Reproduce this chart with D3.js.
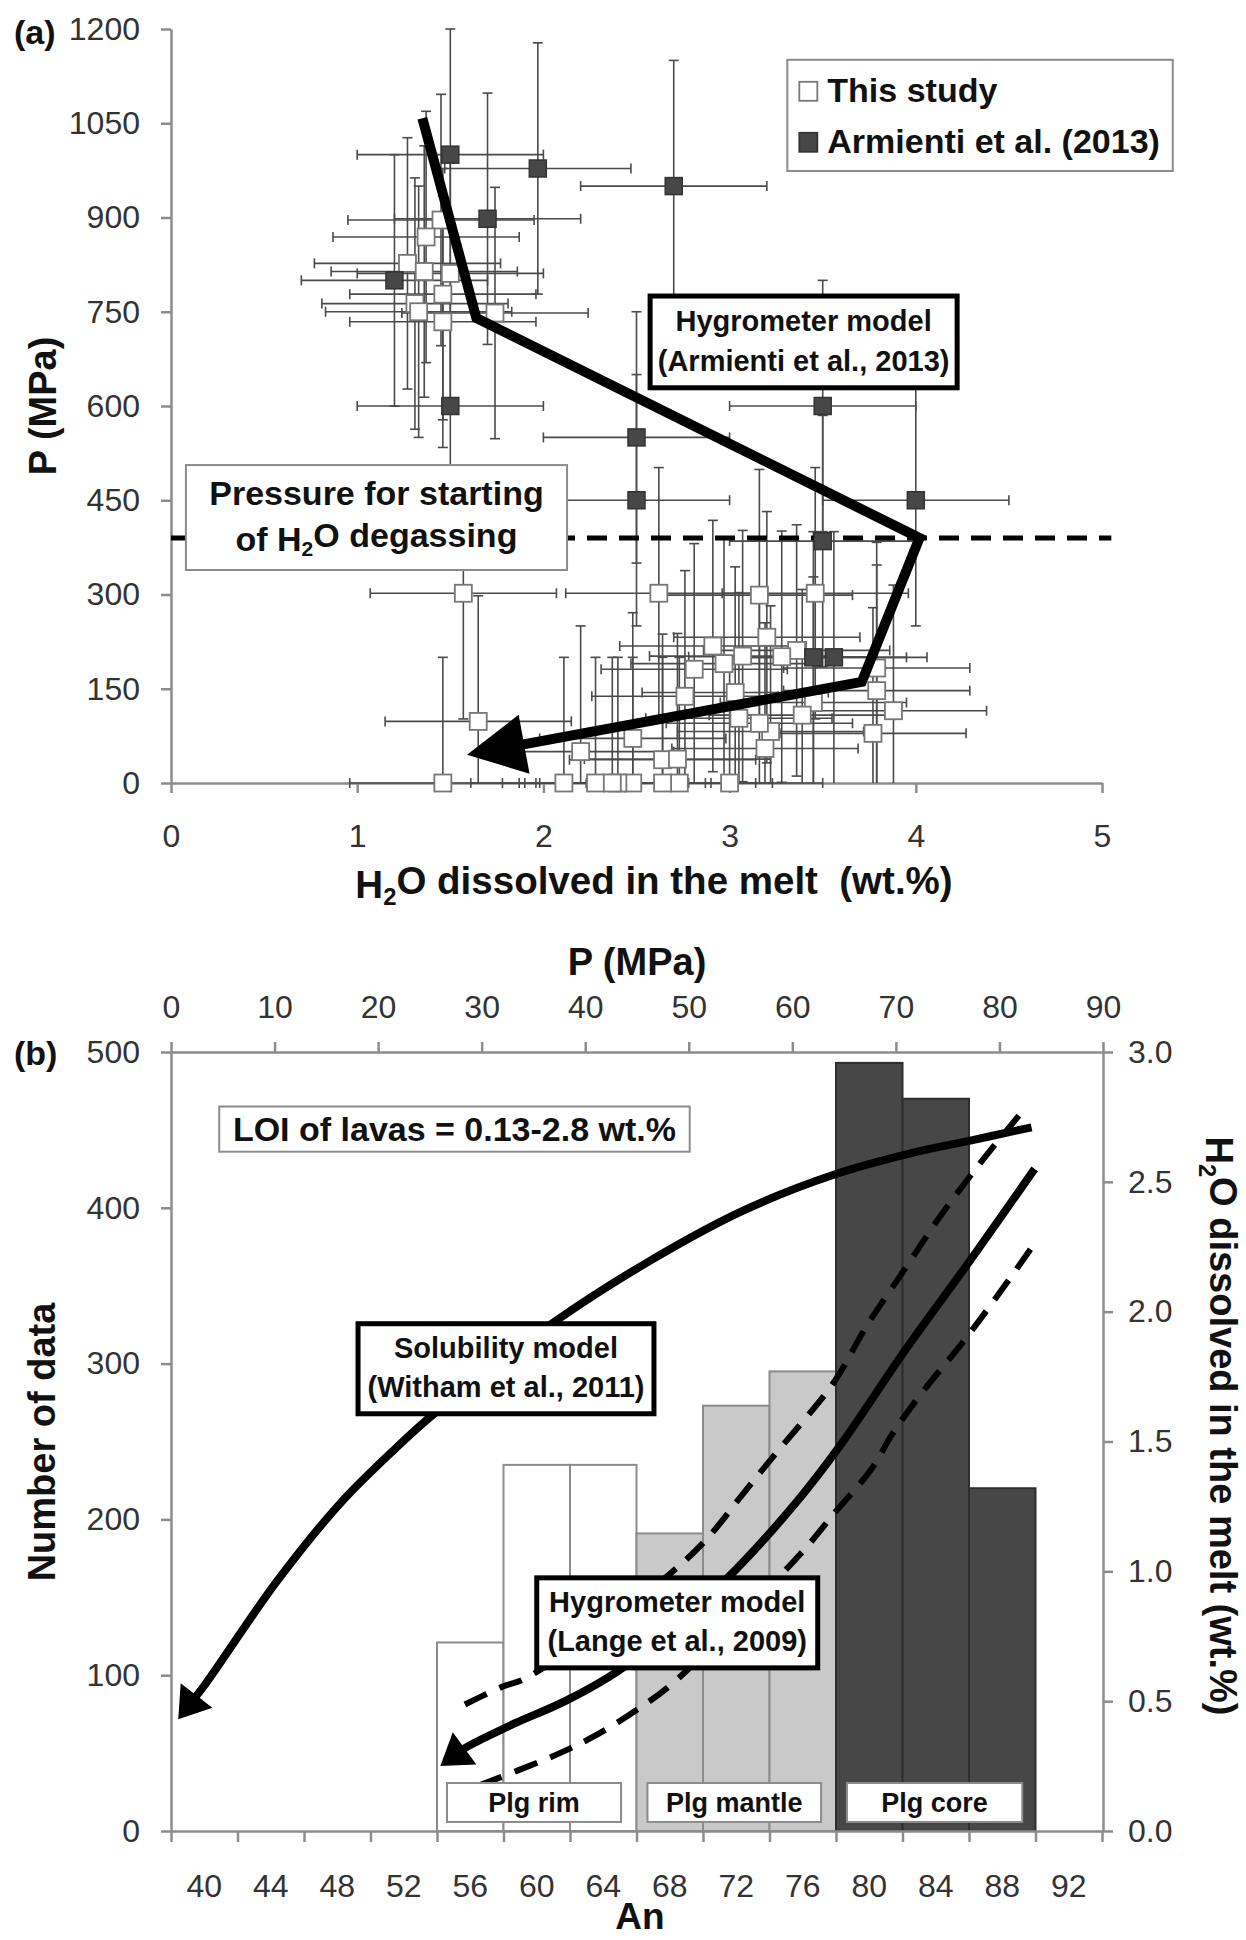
<!DOCTYPE html>
<html>
<head>
<meta charset="utf-8">
<script src="https://cdn.jsdelivr.net/npm/d3@7"></script>
<style>
  body { margin: 0; background: #fff; }
  svg text { font-family: "Liberation Sans", Arial, sans-serif; }
</style>
</head>
<body>
<div id="chart"></div>
<script>
// ---------- panel (a): H2O dissolved in the melt vs P ----------
// this study (white squares)
var thisH2O = [1.45, 1.37, 1.27, 1.36, 1.50, 1.46, 1.31, 1.33, 1.46, 1.74,
               1.57, 1.65, 1.46,
               2.62, 3.16, 3.46, 3.20, 3.36, 3.28, 3.07, 2.91, 2.97, 2.81, 2.76, 3.03,
               3.45, 3.39, 3.05, 3.22, 3.16, 3.19, 3.79, 3.88, 3.77, 3.79, 2.48, 2.64,
               2.72, 3.00, 2.73, 2.64, 2.48, 2.40, 2.11, 2.20, 2.28, 2.37];
var thisP   = [896, 869, 827, 814, 811, 778, 763, 750, 734, 748,
               302, 98, 0,
               302, 299, 302, 232, 211, 201, 202, 218, 190, 181, 138, 144,
               128, 108, 103, 82, 95, 55, 147, 115, 79, 183, 71, 37,
               38, 0, 0, 0, 0, 0, 0, 50, 0, 0];
// Armienti et al. (2013) (dark squares)
var armH2O = [1.50, 1.97, 1.70, 1.20, 1.50, 2.70, 3.50, 2.50, 2.50, 4.00, 3.50, 3.45, 3.56];
var armP   = [1000, 978, 898, 800, 600, 950, 600, 550, 450, 450, 385, 200, 200];
var errH2O = 0.5, errP = 200;
// hygrometer model path (Armienti et al., 2013)
var hygH2O = [1.35, 1.64, 4.02, 3.71, 1.59];
var hygP   = [1058, 740, 390, 161, 45];
var degasP = 390;
var aXTicks = [0, 1, 2, 3, 4, 5];
var aYTicks = [0, 150, 300, 450, 600, 750, 900, 1050, 1200];

// ---------- panel (b): An histogram + models ----------
var anBins   = [40, 44, 48, 52, 56, 60, 64, 68, 72, 76, 80, 84, 88, 92];
var anCounts = [0, 0, 0, 0, 121, 235, 235, 191, 273, 295, 493, 470, 220, 0];
var anZone   = ["", "", "", "", "rim", "rim", "rim", "mantle", "mantle", "mantle", "core", "core", "core", ""];
var anEdges  = [38, 42, 46, 50, 54, 58, 62, 66, 70, 74, 78, 82, 86, 90, 94];
var countTicks = [0, 100, 200, 300, 400, 500];
var pTicks     = [0, 10, 20, 30, 40, 50, 60, 70, 80, 90];
var h2oTicks   = [0, 0.5, 1.0, 1.5, 2.0, 2.5, 3.0];
// solubility model (Witham et al., 2011): P (MPa, top axis) vs H2O
var solP   = [83.1, 77.3, 71.4, 64.2, 55.3, 46.0, 37.0, 25.5, 21.6, 16.3, 10.2, 3.4, 0.7];
var solH2O = [2.71, 2.66, 2.61, 2.53, 2.39, 2.19, 1.96, 1.61, 1.47, 1.26, 0.96, 0.57, 0.43];
// hygrometer model (Lange et al., 2009): An vs H2O, with dashed bounds
var langeAn  = [89.95, 86.1, 82.2, 78.2, 75.6, 71.4, 65.2, 61.7, 58.7, 55.7, 54.2];
var langeH2O = [2.55, 2.20, 1.855, 1.48, 1.265, 0.97, 0.63, 0.50, 0.415, 0.32, 0.25];
var upAn  = [89.0, 86.65, 84.3, 82.2, 79.8, 78.2, 77.2, 74.2, 72.3, 70.3, 68.0, 59.4, 57.9, 55.3];
var upH2O = [2.755, 2.57, 2.37, 2.17, 1.94, 1.76, 1.67, 1.44, 1.29, 1.13, 0.99, 0.59, 0.555, 0.475];
var loAn  = [89.7, 87.7, 85.6, 83.2, 81.4, 80.2, 77.85, 75.9, 68.2, 66.0, 63.4, 60.9, 56.3];
var loH2O = [2.24, 2.06, 1.88, 1.69, 1.53, 1.40, 1.22, 1.07, 0.57, 0.466, 0.363, 0.286, 0.17];

var svg = d3.select("#chart").append("svg").attr("width", 1246).attr("height", 1940);
svg.append("rect").attr("width", 1246).attr("height", 1940).attr("fill", "#fff");

var AXC = "#8c8c8c", TXT = "#333";

function styleAxis(g, fs) {
  g.attr("font-size", null).attr("font-family", null);
  g.select(".domain").attr("stroke", AXC).attr("stroke-width", 2.5);
  g.selectAll(".tick line").attr("stroke", AXC).attr("stroke-width", 2.5);
  g.selectAll(".tick text").attr("fill", TXT).attr("font-size", fs || 32);
}

// text with H2O subscript: parts = [[str, isSub, isAfterSub], ...]
function rich(t, parts) {
  parts.forEach(function (p) {
    var ts = t.append("tspan").text(p[0]);
    if (p[1]) ts.attr("font-size", "0.62em").attr("dy", "0.28em");
    else if (p[2]) ts.attr("dy", "-0.28em");
  });
  return t;
}

function box(g, x0, y0, x1, y1, opt) {
  g.append("rect").attr("x", x0).attr("y", y0).attr("width", x1 - x0).attr("height", y1 - y0)
    .attr("fill", "#fff").attr("stroke", opt.stroke).attr("stroke-width", opt.sw);
  var cx = (x0 + x1) / 2, h = y1 - y0;
  opt.lines.forEach(function (parts, i) {
    var by = opt.lines.length === 1 ? (y0 + y1) / 2 + 0.36 * opt.fs
                                    : y0 + h * (i === 0 ? 0.385 : 0.815);
    var t = g.append("text").attr("x", cx).attr("y", by).attr("text-anchor", "middle")
      .attr("font-weight", "bold").attr("font-size", opt.fs).attr("fill", "#111");
    rich(t, parts);
  });
}

function arrowParts(pts, len, hw) {
  var n = pts.length, tip = pts[n - 1], prev = pts[n - 2];
  var dx = tip[0] - prev[0], dy = tip[1] - prev[1], d = Math.hypot(dx, dy);
  var ux = dx / d, uy = dy / d;
  var bx = tip[0] - ux * len, by = tip[1] - uy * len;
  return {
    tri: [tip, [bx - uy * hw, by + ux * hw], [bx + uy * hw, by - ux * hw]],
    shaft: pts.slice(0, n - 1).concat([[tip[0] - ux * len * 0.8, tip[1] - uy * len * 0.8]])
  };
}

// ======================= PANEL A =======================
var xa = d3.scaleLinear().domain([0, 5]).range([171, 1102]);
var ya = d3.scaleLinear().domain([0, 1200]).range([783, 29]);
var ga = svg.append("g");

styleAxis(ga.append("g").attr("transform", "translate(171,0)")
  .call(d3.axisLeft(ya).tickValues(aYTicks).tickFormat(d3.format("d"))
    .tickSize(10).tickSizeOuter(0).tickPadding(21)));
styleAxis(ga.append("g").attr("transform", "translate(0,783)")
  .call(d3.axisBottom(xa).tickValues(aXTicks).tickFormat(d3.format("d"))
    .tickSize(10).tickSizeOuter(0).tickPadding(31)));

var pts = thisH2O.map(function (v, i) { return { x: v, p: thisP[i], s: 0 }; })
  .concat(armH2O.map(function (v, i) { return { x: v, p: armP[i], s: 1 }; }));

// error bars
var eb = ga.append("g").attr("stroke", "#4a4a4a").attr("stroke-width", 1.6).attr("fill", "none");
pts.forEach(function (d) {
  var cx = xa(d.x), cy = ya(d.p), c = 5;
  var x0 = xa(d.x - errH2O), x1 = xa(d.x + errH2O);
  var y0 = ya(Math.max(0, d.p - errP)), y1 = ya(Math.min(1200, d.p + errP));
  eb.append("line").attr("x1", x0).attr("x2", x1).attr("y1", cy).attr("y2", cy);
  eb.append("line").attr("x1", x0).attr("x2", x0).attr("y1", cy - c).attr("y2", cy + c);
  eb.append("line").attr("x1", x1).attr("x2", x1).attr("y1", cy - c).attr("y2", cy + c);
  eb.append("line").attr("x1", cx).attr("x2", cx).attr("y1", y0).attr("y2", y1);
  eb.append("line").attr("x1", cx - c).attr("x2", cx + c).attr("y1", y1).attr("y2", y1);
  if (d.p - errP > 0) eb.append("line").attr("x1", cx - c).attr("x2", cx + c).attr("y1", y0).attr("y2", y0);
});

// degassing pressure
ga.append("line").attr("x1", xa(0)).attr("x2", xa(5.05)).attr("y1", ya(degasP)).attr("y2", ya(degasP))
  .attr("stroke", "#000").attr("stroke-width", 5).attr("stroke-dasharray", "20,12");

var sq = 17;
ga.selectAll("rect.pt").data(pts.filter(function (d) { return d.s === 0; })).enter().append("rect")
  .attr("x", function (d) { return xa(d.x) - sq / 2; }).attr("y", function (d) { return ya(d.p) - sq / 2; })
  .attr("width", sq).attr("height", sq).attr("fill", "#fff").attr("stroke", "#777").attr("stroke-width", 1.8);
ga.selectAll("rect.am").data(pts.filter(function (d) { return d.s === 1; })).enter().append("rect")
  .attr("x", function (d) { return xa(d.x) - sq / 2; }).attr("y", function (d) { return ya(d.p) - sq / 2; })
  .attr("width", sq).attr("height", sq).attr("fill", "#474747").attr("stroke", "#333").attr("stroke-width", 1.5);

// hygrometer path with arrow
var hp = hygH2O.map(function (v, i) { return [xa(v), ya(hygP[i])]; });
var ha = arrowParts(hp, 58, 30);
ga.append("path").attr("d", d3.line()(ha.shaft)).attr("fill", "none").attr("stroke", "#000")
  .attr("stroke-width", 10).attr("stroke-linejoin", "miter");
ga.append("path").attr("d", d3.line()(ha.tri) + "Z").attr("fill", "#000");

// boxes
box(ga, xa(0.08), ya(506), xa(2.127), ya(339), {
  stroke: "#8c8c8c", sw: 2, fs: 34,
  lines: [[["Pressure for starting"]], [["of H"], ["2", true], ["O degassing", false, true]]]
});
box(ga, xa(2.573), ya(775), xa(4.222), ya(629), {
  stroke: "#000", sw: 5, fs: 29,
  lines: [[["Hygrometer model"]], [["(Armienti et al., 2013)"]]]
});

// legend
var lg = ga.append("g");
lg.append("rect").attr("x", xa(3.31)).attr("y", ya(1151)).attr("width", xa(5.38) - xa(3.31))
  .attr("height", ya(974) - ya(1151)).attr("fill", "#fff").attr("stroke", "#8c8c8c").attr("stroke-width", 2);
[["This study", "#fff", "#777"], ["Armienti et al. (2013)", "#474747", "#333"]].forEach(function (e, i) {
  var by = ya(1151) + 42 + i * 51;
  lg.append("rect").attr("x", xa(3.31) + 12).attr("y", by - 20).attr("width", 18).attr("height", 19)
    .attr("fill", e[1]).attr("stroke", e[2]).attr("stroke-width", 1.8);
  lg.append("text").attr("x", xa(3.31) + 40).attr("y", by).attr("font-weight", "bold")
    .attr("font-size", 34).attr("fill", "#111").text(e[0]);
});

// titles panel a
svg.append("text").attr("x", 14).attr("y", 44).attr("font-weight", "bold").attr("font-size", 34)
  .attr("fill", "#111").text("(a)");
svg.append("text").attr("transform", "translate(56,406) rotate(-90)").attr("text-anchor", "middle")
  .attr("font-weight", "bold").attr("font-size", 38).attr("fill", "#111").text("P (MPa)");
rich(svg.append("text").attr("x", 654).attr("y", 898).attr("text-anchor", "middle")
  .attr("font-weight", "bold").attr("font-size", 38.5).attr("fill", "#111"),
  [["H"], ["2", true], ["O dissolved in the melt\u00a0\u00a0(wt.%)", false, true]]);

// ======================= PANEL B =======================
var xb = d3.scaleBand().domain(anBins).range([171, 1102]);
var anX = d3.scaleLinear().domain([38, 94]).range([171, 1102]);
var pX = d3.scaleLinear().domain([0, 90]).range([171, 1103]);
var yC = d3.scaleLinear().domain([0, 500]).range([1831, 1052]);
var yH = d3.scaleLinear().domain([0, 3]).range([1831, 1052]);
var gb = svg.append("g");

var zoneFill = { rim: "#fff", mantle: "#c9c9c9", core: "#474747" };
var zoneStroke = { rim: "#8c8c8c", mantle: "#8c8c8c", core: "#2e2e2e" };
gb.selectAll("rect.bar").data(anBins.map(function (b, i) { return { b: b, c: anCounts[i], z: anZone[i] }; })
  .filter(function (d) { return d.c > 0; }))
  .enter().append("rect")
  .attr("x", function (d) { return xb(d.b); }).attr("width", xb.bandwidth())
  .attr("y", function (d) { return yC(d.c); }).attr("height", function (d) { return yC(0) - yC(d.c); })
  .attr("fill", function (d) { return zoneFill[d.z]; })
  .attr("stroke", function (d) { return zoneStroke[d.z]; }).attr("stroke-width", 2);

// axes
styleAxis(gb.append("g").attr("transform", "translate(171,0)")
  .call(d3.axisLeft(yC).tickValues(countTicks).tickFormat(d3.format("d"))
    .tickSize(10).tickSizeOuter(0).tickPadding(21)));
styleAxis(gb.append("g").attr("transform", "translate(1103,0)")
  .call(d3.axisRight(yH).tickValues(h2oTicks).tickFormat(d3.format(".1f"))
    .tickSize(10).tickSizeOuter(0).tickPadding(15)));
styleAxis(gb.append("g").attr("transform", "translate(0,1052)")
  .call(d3.axisTop(pX).tickValues(pTicks).tickFormat(d3.format("d"))
    .tickSize(10).tickSizeOuter(0).tickPadding(24)));
styleAxis(gb.append("g").attr("transform", "translate(0,1831)")
  .call(d3.axisBottom(anX).tickValues(anEdges).tickFormat("").tickSize(11).tickSizeOuter(0)));
var lab = gb.append("g").attr("transform", "translate(0,1831)")
  .call(d3.axisBottom(xb).tickSize(0).tickPadding(43));
lab.select(".domain").remove();
styleAxis(lab);

// curves
var smooth = d3.line().curve(d3.curveCatmullRom.alpha(0.5));
function curve(xs, ys, xsc, dash, w, arrow) {
  var p = xs.map(function (v, i) { return [xsc(v), yH(ys[i])]; });
  if (arrow) {
    var a = arrowParts(p, arrow[0], arrow[1]);
    gb.append("path").attr("d", smooth(a.shaft)).attr("fill", "none").attr("stroke", "#000").attr("stroke-width", w);
    gb.append("path").attr("d", d3.line()(a.tri) + "Z").attr("fill", "#000");
  } else {
    gb.append("path").attr("d", smooth(p)).attr("fill", "none").attr("stroke", "#000")
      .attr("stroke-width", w).attr("stroke-dasharray", dash);
  }
}
curve(upAn, upH2O, anX, "24,14", 6);
curve(loAn, loH2O, anX, "24,14", 6);
curve(langeAn, langeH2O, anX, null, 8, [30, 20]);
curve(solP, solH2O, pX, null, 8, [30, 20]);

// boxes panel b
box(gb, anX(40.9), yC(465), anX(69.2), yC(436), {
  stroke: "#8c8c8c", sw: 2, fs: 34, lines: [[["LOI of lavas = 0.13-2.8 wt.%"]]]
});
box(gb, anX(49.25), yC(325.6), anX(67.05), yC(267.8), {
  stroke: "#000", sw: 5, fs: 29, lines: [[["Solubility model"]], [["(Witham et al., 2011)"]]]
});
box(gb, anX(60.0), yC(162.5), anX(76.9), yC(104.7), {
  stroke: "#000", sw: 5, fs: 29, lines: [[["Hygrometer model"]], [["(Lange et al., 2009)"]]]
});
[["Plg rim", 54.6, 65.07], ["Plg mantle", 66.66, 77.1], ["Plg core", 78.66, 89.2]].forEach(function (z) {
  box(gb, anX(z[1]), yC(30.8), anX(z[2]), yC(5.8), { stroke: "#8c8c8c", sw: 2, fs: 27, lines: [[[z[0]]]] });
});

// titles panel b
svg.append("text").attr("x", 14).attr("y", 1065).attr("font-weight", "bold").attr("font-size", 34)
  .attr("fill", "#111").text("(b)");
svg.append("text").attr("x", 637).attr("y", 975).attr("text-anchor", "middle")
  .attr("font-weight", "bold").attr("font-size", 38).attr("fill", "#111").text("P (MPa)");
svg.append("text").attr("x", 640).attr("y", 1929).attr("text-anchor", "middle")
  .attr("font-weight", "bold").attr("font-size", 37).attr("fill", "#111").text("An");
svg.append("text").attr("transform", "translate(55,1442) rotate(-90)").attr("text-anchor", "middle")
  .attr("font-weight", "bold").attr("font-size", 38).attr("fill", "#111").text("Number of data");
rich(svg.append("text").attr("transform", "translate(1206,1426) rotate(90)").attr("text-anchor", "middle")
  .attr("font-weight", "bold").attr("font-size", 38).attr("fill", "#111"),
  [["H"], ["2", true], ["O dissolved in the melt (wt.%)", false, true]]);
</script>
</body>
</html>
